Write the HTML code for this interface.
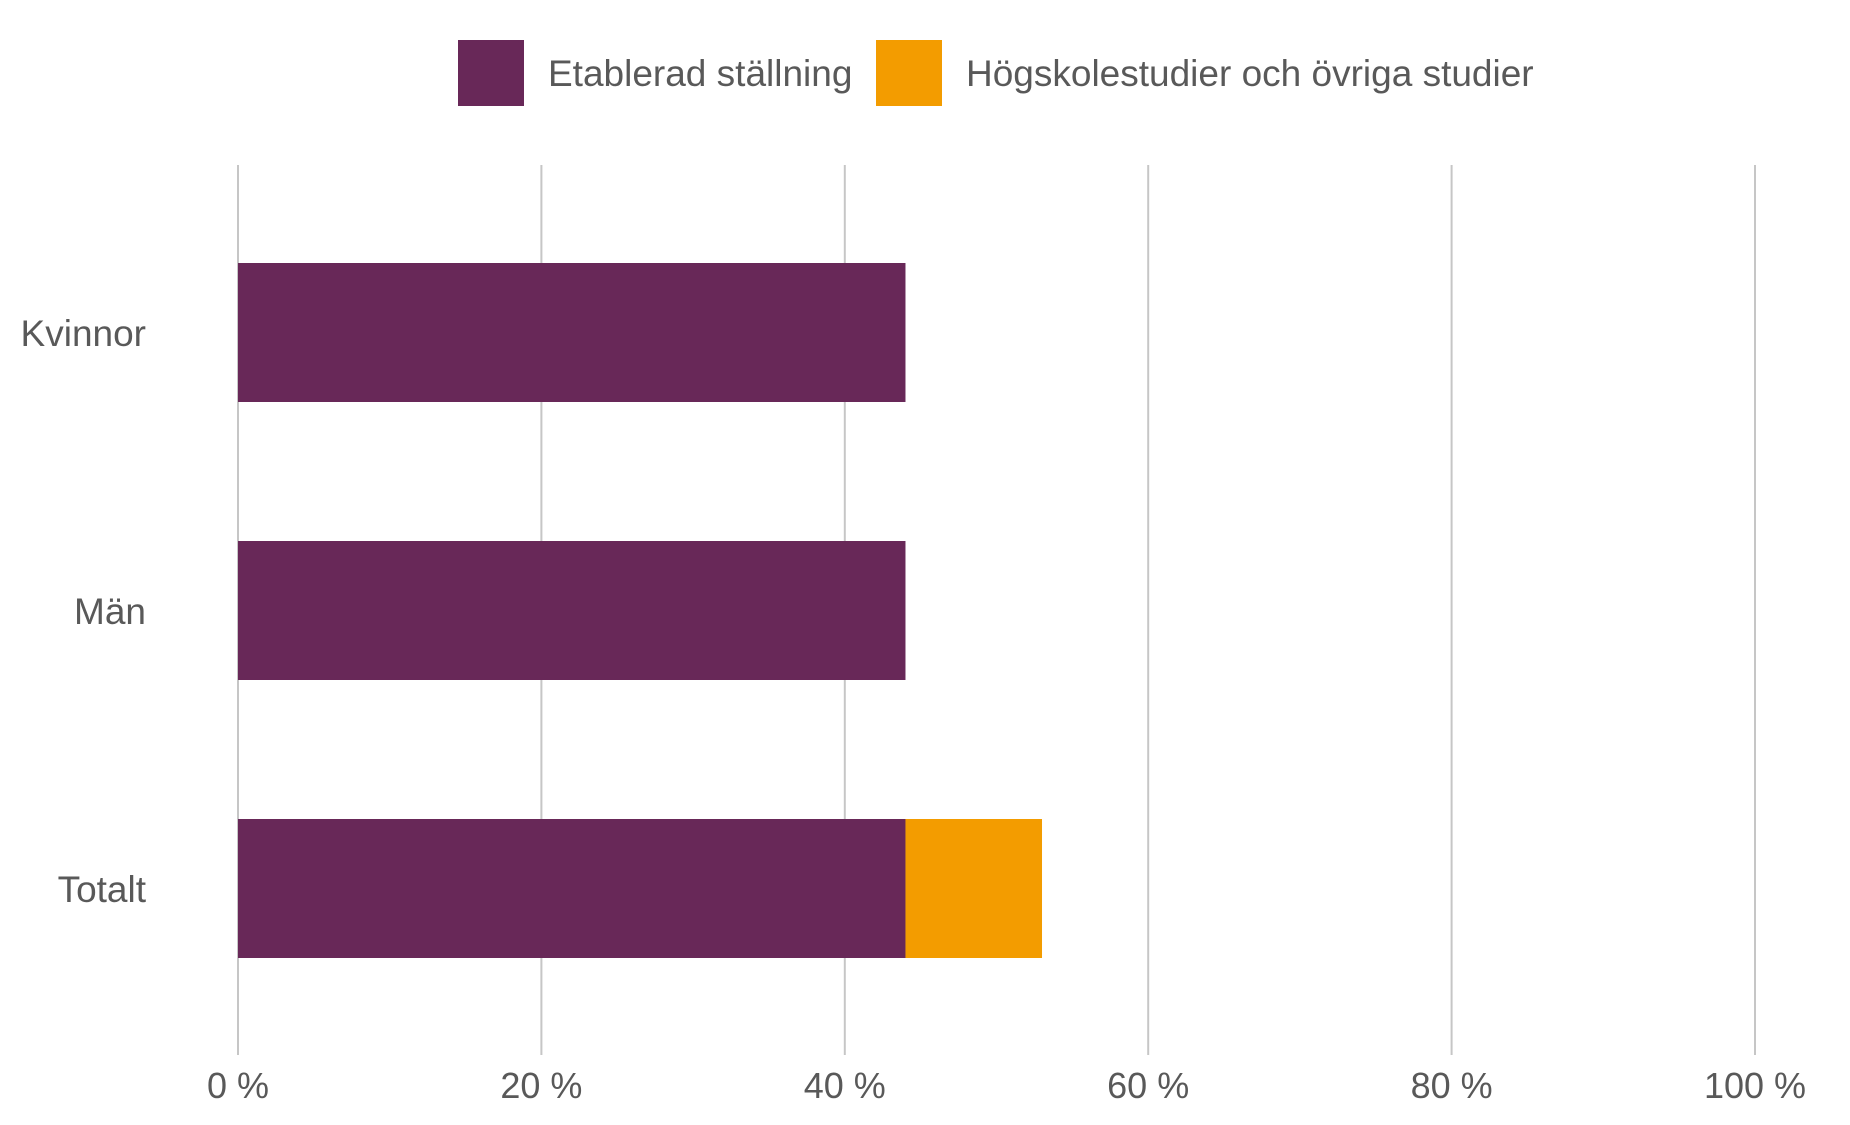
<!DOCTYPE html>
<html><head><meta charset="utf-8"><style>
html,body{margin:0;padding:0;background:#fff;}
svg{display:block;font-family:"Liberation Sans",Arial,sans-serif;}
</style></head><body>
<svg id="chart" width="1850" height="1125" viewBox="0 0 1850 1125">
<g id="legend">
 <g>
  <rect x="458" y="40" width="66" height="66" fill="#682858"/>
  <text x="548" y="86" font-size="37" fill="#595959">Etablerad ställning</text>
 </g>
 <g>
  <rect x="876" y="40" width="66" height="66" fill="#f39c00"/>
  <text x="966" y="86" font-size="37" fill="#595959">Högskolestudier och övriga studier</text>
 </g>
</g>
<g id="grid"></g>
<g id="bars"></g>
<g id="xlabels"></g>
<g id="ylabels"></g>
</svg>
<script>
const categories = ["Kvinnor", "Män", "Totalt"];
const etablerad = [44, 44, 44];
const studier = [0, 0, 9];
const ticks = [0, 20, 40, 60, 80, 100];
const tickLabels = ["0 %", "20 %", "40 %", "60 %", "80 %", "100 %"];

const NS = "http://www.w3.org/2000/svg";
const x0 = 238, x1 = 1755, yTop = 165, yBot = 1055;
const xScale = v => x0 + (v / 100) * (x1 - x0);
const bandStart = 263, bandStep = 278, barH = 139;
const yScale = i => bandStart + i * bandStep;

function mk(tag, attrs, parent) {
  const el = document.createElementNS(NS, tag);
  for (const k in attrs) el.setAttribute(k, attrs[k]);
  parent.appendChild(el);
  return el;
}
const grid = document.getElementById("grid");
const xl = document.getElementById("xlabels");
ticks.forEach((t, i) => {
  const x = xScale(t);
  const l = mk("line", {x1: x, x2: x, y1: yTop, y2: yBot, stroke: "#c6c6c6", "stroke-width": 2}, grid);
  
  
  const tx = mk("text", {x: x, y: 1098, "font-size": 36, fill: "#595959", "text-anchor": "middle"}, xl);
  tx.textContent = tickLabels[i];
  
  
});
const bars = document.getElementById("bars");
const yl = document.getElementById("ylabels");
categories.forEach((c, i) => {
  const y = yScale(i);
  const w1 = xScale(etablerad[i]) - xScale(0);
  const r1 = mk("rect", {x: xScale(0), y: y, width: w1, height: barH, fill: "#682858"}, bars);
  
  
  if (studier[i] > 0) {
    const w2 = xScale(etablerad[i] + studier[i]) - xScale(etablerad[i]);
    const r2 = mk("rect", {x: xScale(etablerad[i]), y: y, width: w2, height: barH, fill: "#f39c00"}, bars);
    
    
  }
  const tx = mk("text", {x: 146, y: y + barH / 2 + 13.5, "font-size": 37, fill: "#595959", "text-anchor": "end"}, yl);
  tx.textContent = c;
  
  
});
</script>
</body></html>
